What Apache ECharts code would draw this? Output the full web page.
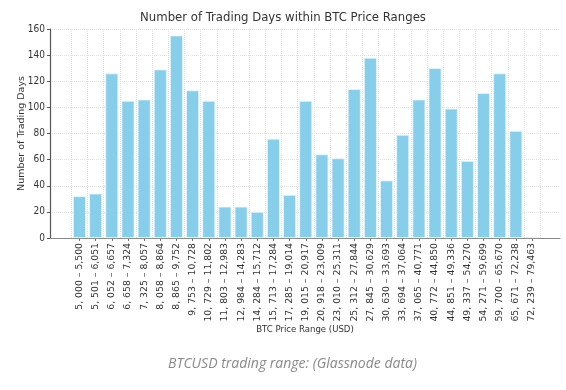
<!DOCTYPE html>
<html><head><meta charset="utf-8">
<script src="https://cdn.jsdelivr.net/npm/echarts@6/dist/echarts.min.js"></script>
<style>html,body{margin:0;padding:0;background:#fff}#c{width:566px;height:390px}</style>
</head><body><div id="c"></div>
<script>
const categories = ["5, 000 – 5,500","5, 501 – 6,051","6, 052 – 6,657","6, 658 – 7,324","7, 325 – 8,057","8, 058 – 8,864","8, 865 – 9,752","9, 753 – 10,728","10, 729 – 11,802","11, 803 – 12,983","12, 984 – 14,283","14, 284 – 15,712","15, 713 – 17,284","17, 285 – 19,014","19, 015 – 20,917","20, 918 – 23,009","23, 010 – 25,311","25, 312 – 27,844","27, 845 – 30,629","30, 630 – 33,693","33, 694 – 37,064","37, 065 – 40,771","40, 772 – 44,850","44, 851 – 49,336","49, 337 – 54,270","54, 271 – 59,699","59, 700 – 65,670","65, 671 – 72,238","72, 239 – 79,463"];
const tradingDays = [32,34,126,105,106,129,155,113,105,24,24,20,76,33,105,64,61,114,138,44,79,106,130,99,59,111,126,82,1];
const yTicks = {min:0, max:160, interval:20};
const titleText = "Number of Trading Days within BTC Price Ranges";
const xName = "BTC Price Range (USD)";
const yName = "Number of Trading Days";
const caption = "BTCUSD trading range: (Glassnode data)";

const font = "DejaVu Sans";
const fontC = "'DejaVu Sans Condensed', 'Liberation Sans', sans-serif";
const chart = echarts.init(document.getElementById('c'));
chart.setOption({
  animation:false,
  title:{text:titleText,left:'center',top:6,textStyle:{fontFamily:fontC,fontSize:13,fontWeight:'normal',color:'#333'}},
  graphic:[{type:'text',left:168,top:357,style:{text:caption,font:'italic 14px "Open Sans"',fill:'#8a8a8a'}}],
  grid:[
    {left:50,right:6,top:29,bottom:152},
    {left:71.4,right:25.9,top:29,bottom:152}
  ],
  xAxis:[
    {gridIndex:0,type:'category',data:[''],axisLine:{lineStyle:{color:'#888',width:1.2}},axisTick:{show:false},axisLabel:{show:false},
     name:xName,nameLocation:'middle',nameGap:87,nameMoveOverlap:false,nameTextStyle:{fontFamily:fontC,fontSize:9.5,color:'#333'}},
    {gridIndex:1,type:'category',data:categories,axisLine:{show:false},
     axisTick:{show:true,alignWithLabel:true,length:3,lineStyle:{color:'#777'}},
     axisLabel:{rotate:90,interval:0,fontFamily:font,fontSize:9.3,color:'#333',margin:5},
     splitLine:{show:true,interval:0,lineStyle:{color:'#e2e2e2',type:'dotted'}}}
  ],
  yAxis:[
    {gridIndex:0,type:'value',min:yTicks.min,max:yTicks.max,interval:yTicks.interval,
     axisLine:{show:true,lineStyle:{color:'#555',width:1.2}},axisTick:{show:true,length:3,lineStyle:{color:'#555'}},
     axisLabel:{fontFamily:fontC,fontSize:10,color:'#333',margin:5},
     splitLine:{show:true,lineStyle:{color:'#e2e2e2',type:'dotted'}},
     name:yName,nameLocation:'middle',nameGap:23,nameMoveOverlap:false,nameTextStyle:{fontFamily:font,fontSize:9.5,color:'#333'}},
    {gridIndex:1,type:'value',min:yTicks.min,max:yTicks.max,interval:yTicks.interval,show:false,splitLine:{show:false}}
  ],
  series:[{type:'bar',xAxisIndex:1,yAxisIndex:1,data:tradingDays,barWidth:'80%',
    itemStyle:{color:'#87CEEB',borderColor:'#e8f6fc',borderWidth:0.8}}]
});
</script></body></html>
